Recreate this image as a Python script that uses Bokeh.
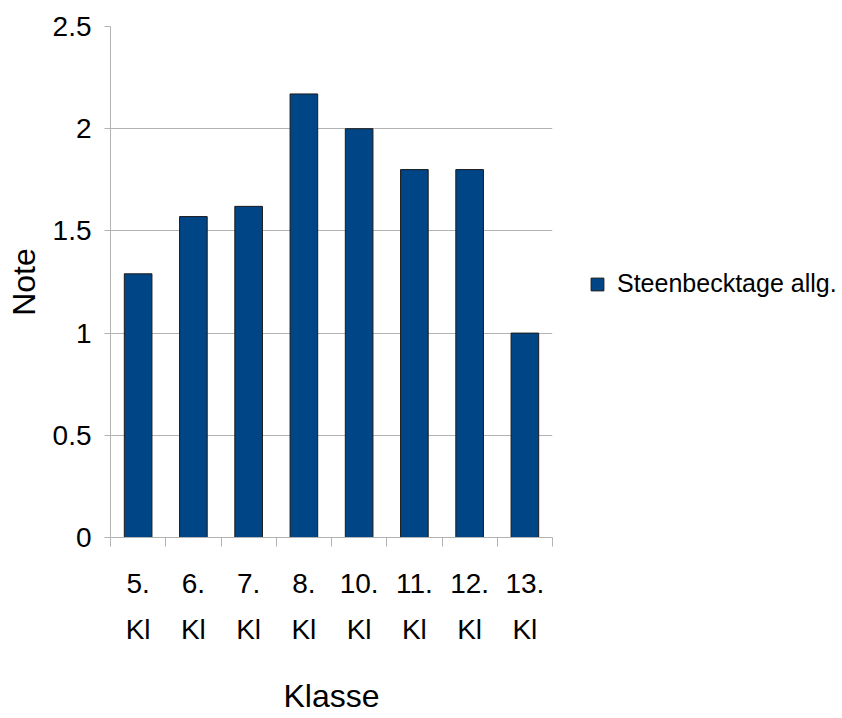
from bokeh.plotting import figure
from bokeh.models import FixedTicker, Legend, LegendItem, Range1d
from bokeh.embed import file_html
from bokeh.resources import INLINE

# ---- data ----
classes = ["5.", "6.", "7.", "8.", "10.", "11.", "12.", "13."]
class_suffix = "Kl"
values = [1.29, 1.57, 1.62, 2.17, 2.00, 1.80, 1.80, 1.00]
y_ticks = [0, 0.5, 1, 1.5, 2, 2.5]
y_tick_labels = ["0", "0.5", "1", "1.5", "2", "2.5"]
series_name = "Steenbecktage allg."
x_title = "Klasse"
y_title = "Note"

FONT = "Liberation Sans"
GRID = "#b3b3b3"
BAR = "#004586"

xs = [i + 0.5 for i in range(len(classes))]
boundaries = list(range(len(classes) + 1))

p = figure(
    frame_width=442, frame_height=511,
    x_range=Range1d(0, len(classes)), y_range=Range1d(0, 2.5),
    output_backend="svg", toolbar_location=None,
    min_border_left=110, min_border_top=26, min_border_right=286, min_border_bottom=10,
)
p.outline_line_color = None
p.background_fill_color = "white"

r = p.vbar(x=xs, top=values, width=0.5, fill_color=BAR, line_color="#1a1a1a", line_width=1)

# x axis
p.xaxis.ticker = FixedTicker(ticks=xs, minor_ticks=boundaries)
p.xaxis.major_label_overrides = {x: f"{c}\n{class_suffix}" for x, c in zip(xs, classes)}
p.xaxis.major_tick_out = 0
p.xaxis.major_tick_in = 0
p.xaxis.minor_tick_out = 9
p.xaxis.minor_tick_in = 0
p.xaxis.minor_tick_line_color = GRID
p.xaxis.axis_line_color = GRID
p.xaxis.major_label_standoff = 21
p.xaxis.major_label_text_line_height = 1.5
p.xgrid.visible = False

# y axis
p.yaxis.ticker = FixedTicker(ticks=y_ticks, minor_ticks=[])
p.yaxis.major_label_overrides = dict(zip(y_ticks, y_tick_labels))
p.yaxis.major_tick_out = 6
p.yaxis.major_tick_in = 0
p.yaxis.major_tick_line_color = GRID
p.yaxis.axis_line_color = GRID
p.yaxis.major_label_standoff = 13
p.ygrid.grid_line_color = GRID

for ax in (p.xaxis, p.yaxis):
    ax.major_label_text_font = FONT
    ax.major_label_text_font_size = "28px"
    ax.major_label_text_color = "black"
    ax.axis_label_text_font = FONT
    ax.axis_label_text_font_size = "32px"
    ax.axis_label_text_font_style = "normal"
    ax.axis_label_text_color = "black"

p.xaxis.axis_label = x_title
p.yaxis.axis_label = y_title
p.xaxis.axis_label_standoff = 30
p.yaxis.axis_label_standoff = 8

legend = Legend(
    items=[LegendItem(label=series_name, renderers=[r])],
    location=(37, 239),
    border_line_color=None, background_fill_alpha=0,
    glyph_width=16, glyph_height=16, label_standoff=12, padding=0, margin=0,
    label_text_font=FONT, label_text_font_size="25px", label_text_color="black",
)
p.add_layout(legend, "right")

open("out.html", "w").write(file_html(p, INLINE))
